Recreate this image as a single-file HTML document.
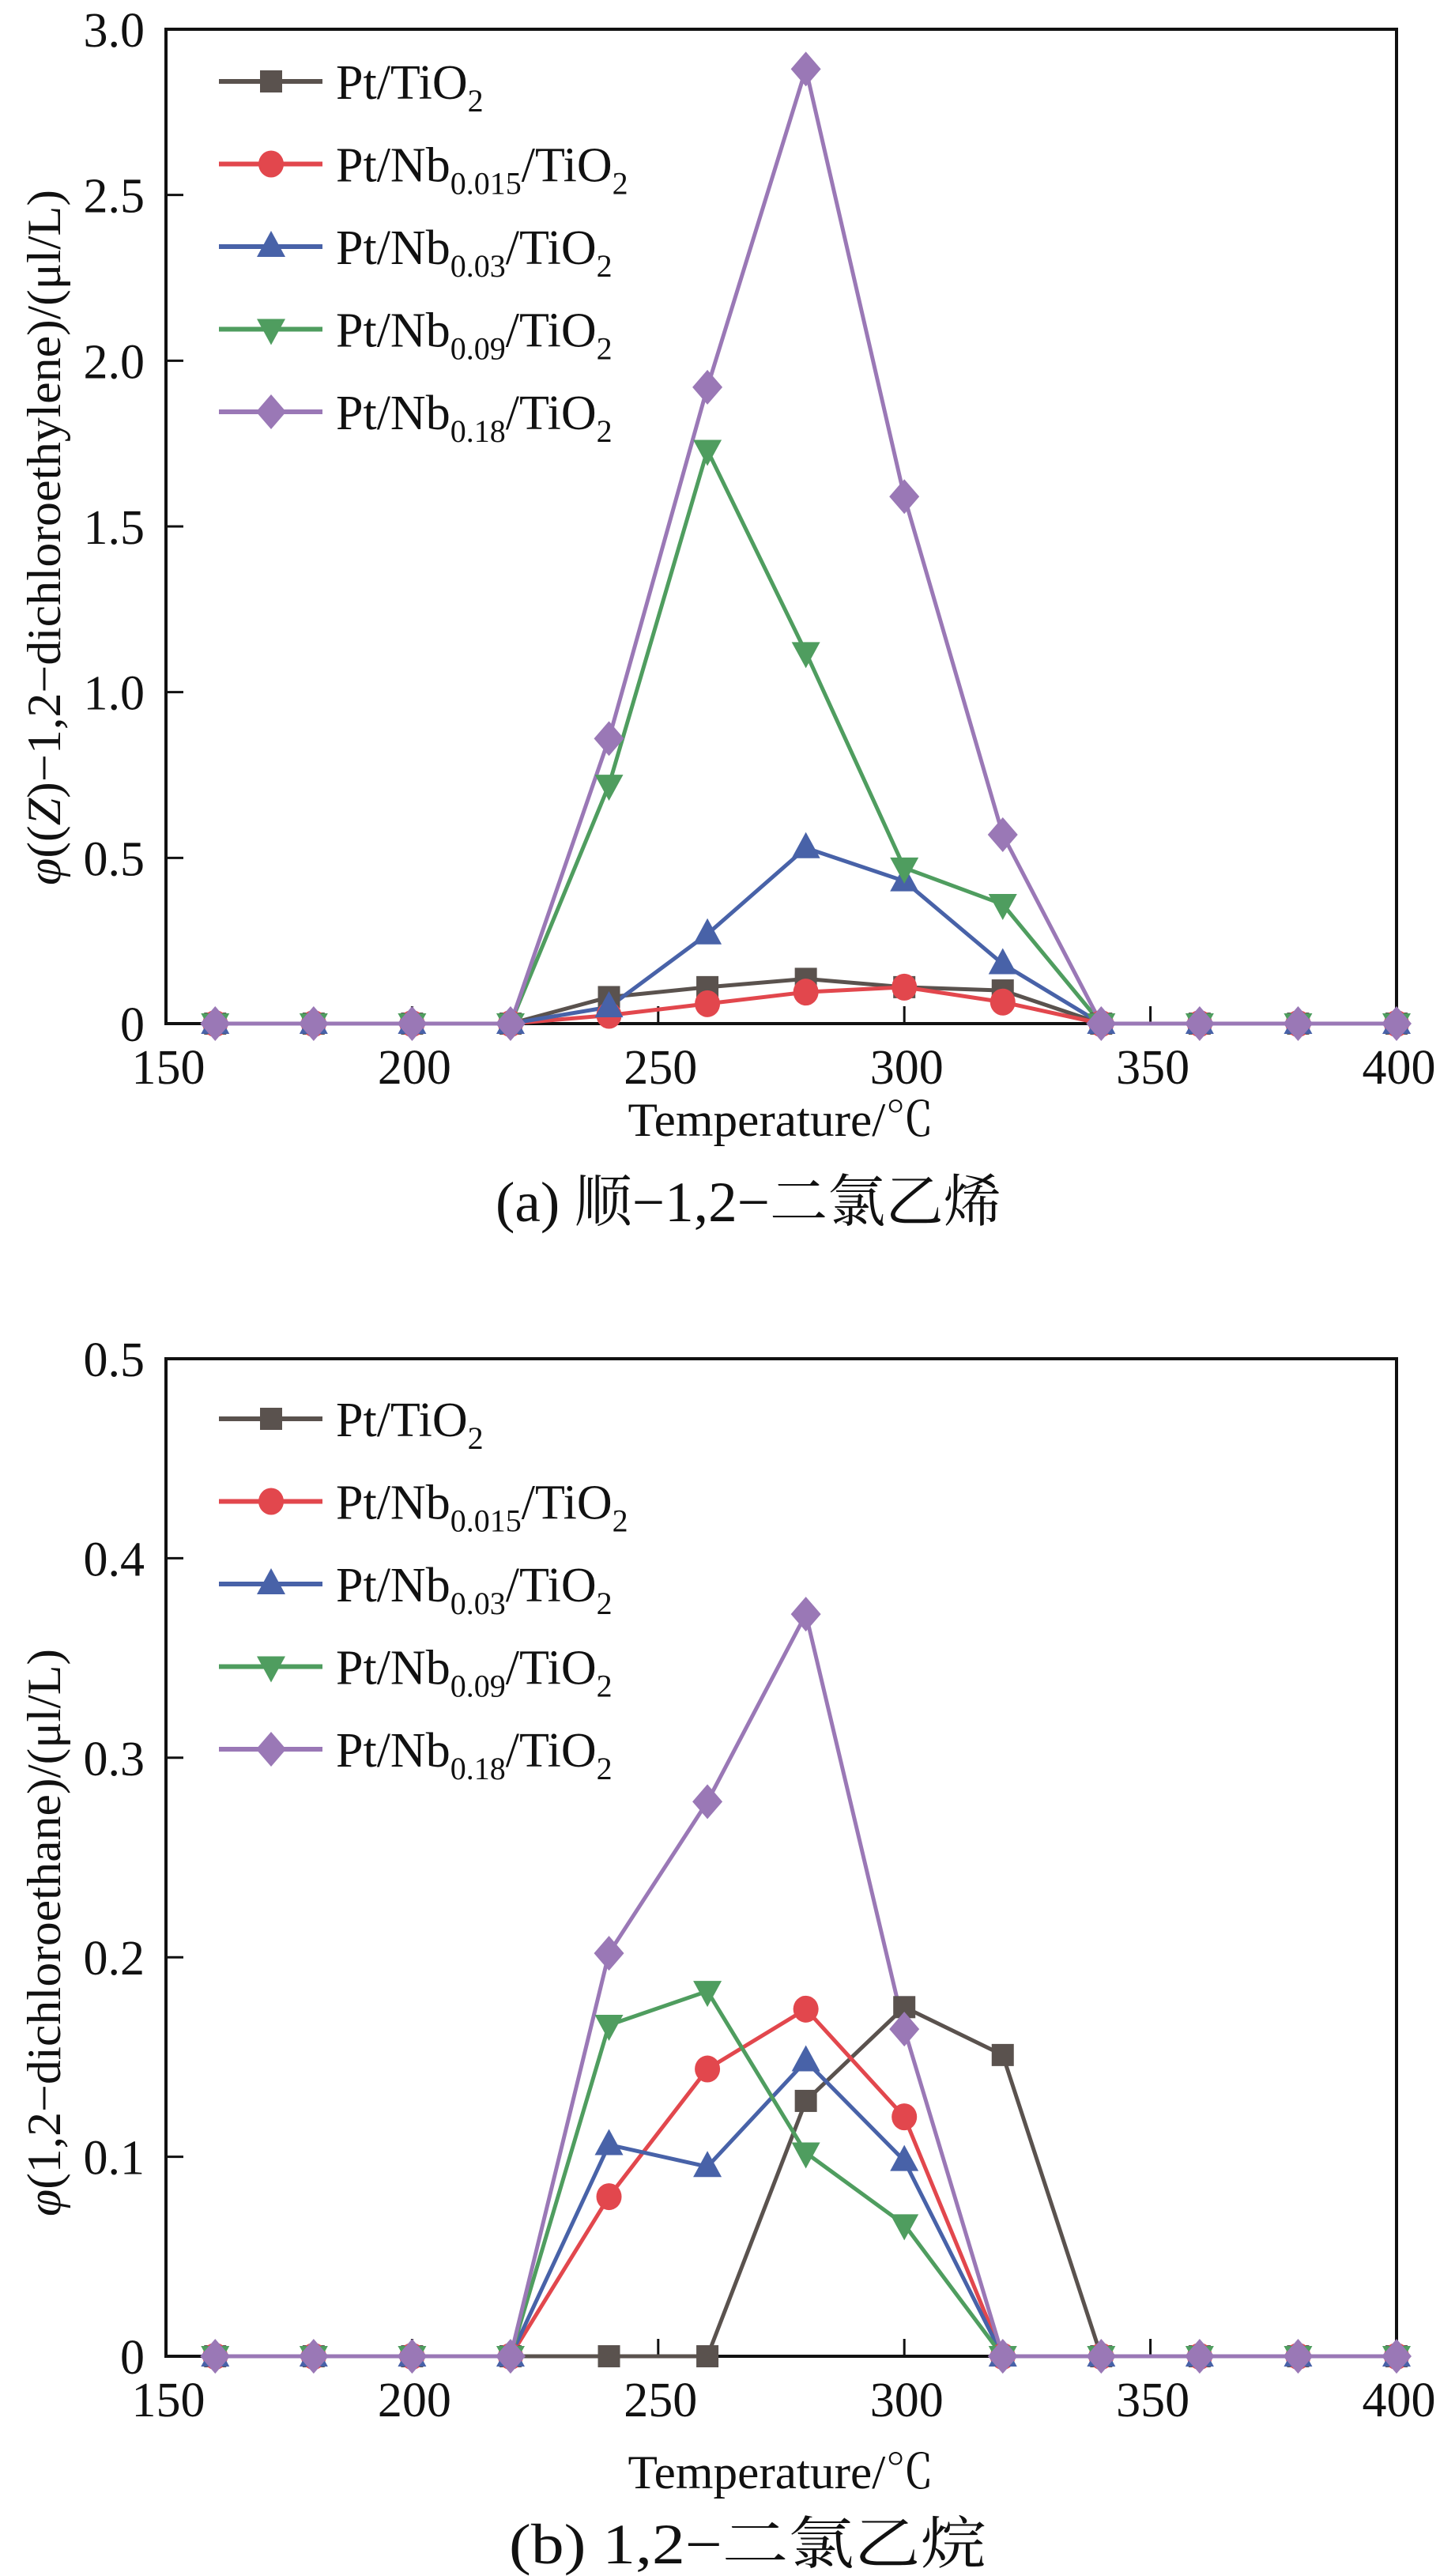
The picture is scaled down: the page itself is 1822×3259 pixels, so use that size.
<!DOCTYPE html>
<html><head><meta charset="utf-8">
<style>
html,body{margin:0;padding:0;background:#fff;}
svg{display:block;}
text{font-family:"Liberation Serif","Noto Serif CJK SC",serif;fill:#111;}
</style></head>
<body>
<svg id="root" width="1822" height="3259" viewBox="0 0 1822 3259" xmlns="http://www.w3.org/2000/svg"></svg>
<script>
const temps = [160,180,200,220,240,260,280,300,320,340,360,380,400];
const seriesNames = ["Pt/TiO2","Pt/Nb0.015/TiO2","Pt/Nb0.03/TiO2","Pt/Nb0.09/TiO2","Pt/Nb0.18/TiO2"];
const xTicks = [150,200,250,300,350,400];
const aTicks = [0,0.5,1.0,1.5,2.0,2.5,3.0];
const aTickLabels = ["0","0.5","1.0","1.5","2.0","2.5","3.0"];
const bTicks = [0,0.1,0.2,0.3,0.4,0.5];
const bTickLabels = ["0","0.1","0.2","0.3","0.4","0.5"];
const aPtTiO2 = [0,0,0,0,0.08,0.11,0.135,0.11,0.10,0,0,0,0];
const aNb015 = [0,0,0,0,0.025,0.06,0.095,0.11,0.065,0,0,0,0];
const aNb03 = [0,0,0,0,0.05,0.27,0.53,0.43,0.18,0,0,0,0];
const aNb09 = [0,0,0,0,0.72,1.73,1.12,0.47,0.36,0,0,0,0];
const aNb18 = [0,0,0,0,0.86,1.92,2.88,1.59,0.57,0,0,0,0];
const bPtTiO2 = [0,0,0,0,0,0,0.128,0.175,0.151,0,0,0,0];
const bNb015 = [0,0,0,0,0.08,0.144,0.174,0.12,0,0,0,0,0];
const bNb03 = [0,0,0,0,0.106,0.095,0.148,0.098,0,0,0,0,0];
const bNb09 = [0,0,0,0,0.166,0.183,0.102,0.066,0,0,0,0,0];
const bNb18 = [0,0,0,0,0.202,0.278,0.372,0.164,0,0,0,0,0];

const NS="http://www.w3.org/2000/svg";
const root=document.getElementById('root');
const colors=["#5a524e","#e2474d","#4862a8","#4f9d5f","#9a78b6"];
const markers=["square","circle","up","down","diamond"];
function mk(tag,attrs,parent){const e=document.createElementNS(NS,tag);for(const k in attrs)e.setAttribute(k,attrs[k]);(parent||root).appendChild(e);return e;}
function marker(g,type,x,y,c){
  let e;
  if(type==="square"){e=mk('rect',{x:x-14,y:y-14,width:28,height:28,fill:c},g);}
  else if(type==="circle"){e=mk('ellipse',{cx:x,cy:y,rx:16,ry:17,fill:c},g);}
  else if(type==="up"){e=mk('polygon',{points:`${x},${y-20} ${x+18},${y+13} ${x-18},${y+13}`,fill:c},g);}
  else if(type==="down"){e=mk('polygon',{points:`${x},${y+20} ${x+18},${y-13} ${x-18},${y-13}`,fill:c},g);}
  else {e=mk('polygon',{points:`${x},${y-22} ${x+19},${y} ${x},${y+22} ${x-19},${y}`,fill:c},g);}
  
  
}
function legendLabel(g,i,x,y){
  const t=mk('text',{x:x,y:y+22,'font-size':62},g);
  
  
  const parts=[["Pt/TiO",null,"2"],["Pt/Nb","0.015","/TiO","2"],["Pt/Nb","0.03","/TiO","2"],["Pt/Nb","0.09","/TiO","2"],["Pt/Nb","0.18","/TiO","2"]][i];
  function span(s,sub){const ts=mk('tspan',{},t);if(sub){ts.setAttribute('font-size','40');ts.setAttribute('dy','16');}ts.textContent=s;return ts;}
  if(i===0){span("Pt/TiO");span("2",true);}
  else{span("Pt/Nb");span(parts[1],true);const a=span(parts[2]);a.setAttribute('dy','-16');span("2",true);}
}
function chart(opt){
  const g=mk('g',{});
  
  
  const L=210,R=1767,T=opt.top,B=opt.bottom;
  const xs=v=>L+(v-150)/(400-150)*(R-L);
  const ys=v=>B-(v/opt.ymax)*(B-T);
  const frame=mk('rect',{x:L,y:T,width:R-L,height:B-T,fill:'none',stroke:'#111','stroke-width':4},g);
  
  
  xTicks.forEach(v=>{
    const tk=mk('line',{x1:xs(v),x2:xs(v),y1:B,y2:B-22,stroke:'#111','stroke-width':3},g);
    
    
    const tl=mk('text',{x:xs(v)+3,y:B+76,'font-size':62,'text-anchor':'middle'},g);
    
    
    tl.textContent=String(v);
  });
  opt.ticks.forEach((v,i)=>{
    const tk=mk('line',{x1:L,x2:L+22,y1:ys(v),y2:ys(v),stroke:'#111','stroke-width':3},g);
    
    
    const tl=mk('text',{x:183,y:ys(v)+22,'font-size':62,'text-anchor':'end'},g);
    
    
    tl.textContent=opt.labels[i];
  });
  opt.series.forEach((s,k)=>{
    const pl=mk('polyline',{points:s.map((v,j)=>xs(temps[j])+','+ys(v)).join(' '),fill:'none',stroke:colors[k],'stroke-width':5,'stroke-linejoin':'round'},g);
    
    
  });
  opt.series.forEach((s,k)=>{
    s.forEach((v,j)=>marker(g,markers[k],xs(temps[j]),ys(v),colors[k]));
  });
  for(let i=0;i<5;i++){
    const y=opt.legTop+i*104.5;
    const lg=mk('g',{},g);
    
    
    mk('line',{x1:277,x2:408,y1:y,y2:y,stroke:colors[i],'stroke-width':6},lg);
    marker(lg,markers[i],343,y,colors[i]);
    legendLabel(lg,i,425,y);
  }
  const xt=mk('text',{x:988,y:opt.xTitleY,'font-size':60,'text-anchor':'middle',textLength:387,lengthAdjust:'spacingAndGlyphs'},g);
  
  
  xt.textContent="Temperature/℃";
  const yt=mk('text',{x:0,y:0,'font-size':60,'text-anchor':'middle',transform:`translate(76,${opt.yTitleC}) rotate(-90)`,textLength:opt.yTitleLen,lengthAdjust:'spacingAndGlyphs'},g);
  
  
  const it=mk('tspan',{'font-style':'italic'},yt);it.textContent="φ";
  const r1=mk('tspan',{},yt);r1.textContent=opt.yTitlePre;
  if(opt.italZ){const z=mk('tspan',{'font-style':'italic'},yt);z.textContent="Z";}
  const r2=mk('tspan',{},yt);r2.textContent=opt.yTitlePost;
  const cap=mk('text',{x:opt.capX,y:opt.capY,'font-size':72,'text-anchor':'middle',textLength:opt.capLen,lengthAdjust:'spacingAndGlyphs'},g);
  
  
  cap.textContent=opt.caption;
}
chart({name:'chart-a',top:37,bottom:1295,ymax:3.0,ticks:aTicks,labels:aTickLabels,series:[aPtTiO2,aNb015,aNb03,aNb09,aNb18],legTop:103,xTitleY:1437,yTitleC:680,yTitleLen:880,yTitlePre:"((",italZ:true,yTitlePost:")−1,2−dichloroethylene)/(μl/L)",capX:947,capLen:640,capY:1545,caption:"(a) 顺−1,2−二氯乙烯"});
chart({name:'chart-b',top:1719,bottom:2981,ymax:0.5,ticks:bTicks,labels:bTickLabels,series:[bPtTiO2,bNb015,bNb03,bNb09,bNb18],legTop:1795,xTitleY:3148,yTitleC:2445,yTitleLen:718,yTitlePre:"(1,2−dichloroethane)/(μl/L)",italZ:false,yTitlePost:"",capX:946,capLen:604,capY:3243,caption:"(b) 1,2−二氯乙烷"});
</script>
</body></html>
